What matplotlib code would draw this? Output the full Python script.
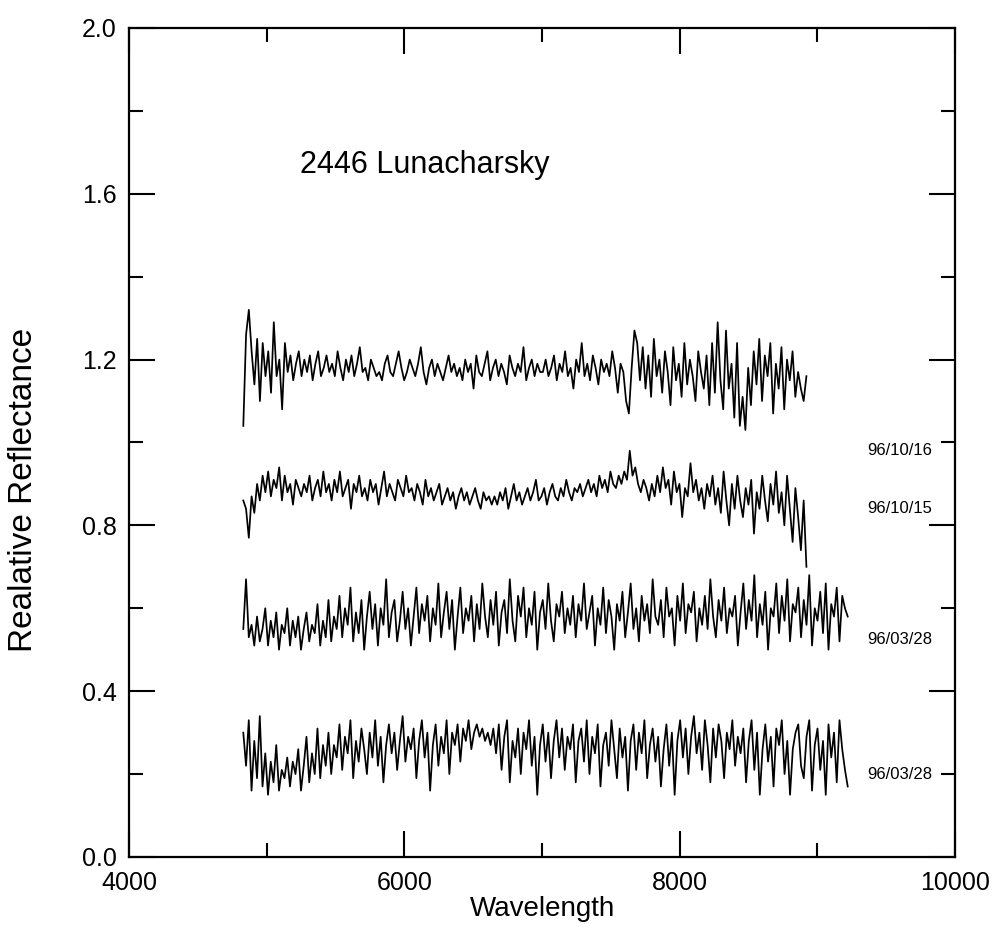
import numpy as np
import matplotlib
matplotlib.use("Agg")
import matplotlib.pyplot as plt
from matplotlib.ticker import MultipleLocator, FormatStrFormatter

plt.rcParams["font.family"] = ["Liberation Sans", "DejaVu Sans"]

# 96/10/16 spectrum, 4830-8920 A
refl_1016 = [
    1.04, 1.26, 1.32, 1.22, 1.14, 1.25, 1.10, 1.24, 1.16, 1.22, 1.12,
    1.29, 1.16, 1.20, 1.08, 1.24, 1.17, 1.21, 1.15, 1.19, 1.22,
    1.16, 1.20, 1.17, 1.21, 1.15, 1.19, 1.22, 1.16, 1.18, 1.21, 1.17, 1.19, 1.16, 1.22,
    1.18, 1.15, 1.20, 1.17, 1.21, 1.16, 1.19, 1.23, 1.17, 1.18, 1.15, 1.20, 1.18,
    1.16, 1.17, 1.15, 1.19, 1.21, 1.17, 1.16, 1.19, 1.22, 1.18, 1.15, 1.17, 1.20, 1.18, 1.16,
    1.19, 1.23, 1.17, 1.14, 1.18, 1.20, 1.16, 1.19, 1.17, 1.15, 1.18, 1.21, 1.17, 1.19, 1.16,
    1.18, 1.15, 1.20, 1.17, 1.19, 1.13, 1.21, 1.17, 1.16, 1.19, 1.22, 1.15, 1.18, 1.20, 1.16,
    1.19, 1.17, 1.14, 1.21, 1.18, 1.16, 1.19, 1.17, 1.23, 1.15, 1.18, 1.20, 1.16, 1.19, 1.17,
    1.17, 1.20, 1.16, 1.18, 1.21, 1.15, 1.19, 1.17, 1.22, 1.16, 1.18, 1.13, 1.20, 1.17, 1.24,
    1.16, 1.19, 1.15, 1.21, 1.18, 1.14, 1.20, 1.17, 1.19, 1.16, 1.22, 1.18, 1.12, 1.19, 1.17,
    1.10, 1.07, 1.18, 1.27, 1.24, 1.15, 1.23, 1.13, 1.21, 1.11, 1.25, 1.16, 1.20, 1.12, 1.22,
    1.17, 1.09, 1.23, 1.15, 1.19, 1.11, 1.24, 1.14, 1.20, 1.16, 1.10, 1.22, 1.17, 1.13, 1.21,
    1.09, 1.24, 1.12, 1.29, 1.15, 1.08, 1.27, 1.13, 1.19, 1.06, 1.24, 1.04, 1.11, 1.03, 1.18,
    1.09, 1.22, 1.14, 1.25, 1.10, 1.21, 1.16, 1.24, 1.07, 1.19, 1.13, 1.23, 1.08, 1.20, 1.15,
    1.22, 1.11, 1.17, 1.13, 1.10, 1.16,
]

# 96/10/15 spectrum, 4830-8920 A
refl_1015 = [
    0.86, 0.84, 0.77, 0.87, 0.83, 0.90, 0.86, 0.92, 0.88, 0.93, 0.87,
    0.91, 0.89, 0.94, 0.86, 0.92, 0.88, 0.90, 0.85, 0.91, 0.89,
    0.87, 0.90, 0.88, 0.92, 0.86, 0.89, 0.91, 0.87, 0.93, 0.88,
    0.90, 0.86, 0.91, 0.88, 0.93, 0.87, 0.89, 0.91, 0.84, 0.90, 0.88, 0.92, 0.87, 0.89, 0.86,
    0.91, 0.88, 0.90, 0.85, 0.89, 0.93, 0.87, 0.90, 0.88, 0.86, 0.91, 0.89, 0.87, 0.92, 0.88,
    0.89, 0.86, 0.90, 0.88, 0.85, 0.91, 0.87, 0.89, 0.86, 0.88, 0.90, 0.85, 0.87, 0.89, 0.86,
    0.88, 0.84, 0.87, 0.89, 0.86, 0.88, 0.85, 0.87, 0.89, 0.86, 0.84, 0.88, 0.86, 0.87, 0.85,
    0.87, 0.85, 0.88, 0.86, 0.89, 0.84, 0.87, 0.90, 0.86, 0.88, 0.85, 0.87, 0.89, 0.86, 0.88,
    0.91, 0.86, 0.87, 0.89, 0.85, 0.88, 0.90, 0.87, 0.86, 0.89, 0.87, 0.91, 0.88, 0.86, 0.89,
    0.88, 0.90, 0.87, 0.89, 0.91, 0.88, 0.90, 0.87, 0.92, 0.89,
    0.91, 0.88, 0.93, 0.90, 0.89, 0.92, 0.90, 0.93, 0.91, 0.98,
    0.92, 0.94, 0.90, 0.88, 0.91, 0.89, 0.86, 0.90, 0.87, 0.92, 0.88, 0.94, 0.89, 0.91, 0.85,
    0.93, 0.88, 0.90, 0.82, 0.89, 0.87, 0.95, 0.88, 0.91, 0.86, 0.89, 0.84, 0.90, 0.87, 0.92,
    0.85, 0.89, 0.83, 0.93, 0.86, 0.80, 0.90, 0.84, 0.92, 0.86, 0.82, 0.89, 0.85, 0.91, 0.78,
    0.88, 0.84, 0.92, 0.86, 0.81, 0.90, 0.85, 0.93, 0.83, 0.88, 0.80, 0.92, 0.84, 0.76, 0.89,
    0.82, 0.74, 0.86, 0.70,
]

# 96/03/28 (upper) spectrum, 4830-9220 A
refl_0328a = [
    0.55, 0.67, 0.53, 0.56, 0.51, 0.58, 0.52, 0.55, 0.60, 0.51, 0.57,
    0.53, 0.59, 0.50, 0.56, 0.54, 0.60, 0.51, 0.57, 0.53, 0.58,
    0.50, 0.55, 0.59, 0.52, 0.56, 0.54, 0.61, 0.51, 0.57, 0.53,
    0.62, 0.52, 0.58, 0.55, 0.63, 0.53, 0.60, 0.56, 0.65, 0.52, 0.59, 0.54, 0.62, 0.50, 0.58,
    0.64, 0.55, 0.61, 0.51, 0.60, 0.56, 0.67, 0.53, 0.59, 0.62, 0.52, 0.57, 0.64, 0.55, 0.60,
    0.51, 0.58, 0.65, 0.54, 0.61, 0.57, 0.63, 0.52, 0.60, 0.56, 0.66, 0.53, 0.59, 0.64, 0.55,
    0.62, 0.50, 0.58, 0.65, 0.54, 0.60, 0.57, 0.63, 0.52, 0.61, 0.55, 0.66, 0.58, 0.53, 0.62,
    0.56, 0.64, 0.51, 0.59, 0.62, 0.54, 0.67, 0.57, 0.52, 0.63, 0.58, 0.65, 0.53, 0.60, 0.56,
    0.64, 0.50, 0.59, 0.62, 0.55, 0.66, 0.57, 0.52, 0.61, 0.58, 0.64, 0.54, 0.60, 0.56, 0.63,
    0.53, 0.61, 0.57, 0.66, 0.55, 0.59, 0.63, 0.51, 0.60, 0.56, 0.65, 0.54, 0.62, 0.58, 0.50,
    0.61, 0.57, 0.64, 0.53, 0.59, 0.66, 0.55, 0.60, 0.52, 0.63, 0.57, 0.61, 0.54, 0.67, 0.58,
    0.56, 0.62, 0.53, 0.65, 0.58, 0.60, 0.51, 0.63, 0.57, 0.66, 0.54, 0.61, 0.59, 0.64, 0.52,
    0.60, 0.56, 0.63, 0.55, 0.67, 0.58, 0.53, 0.62, 0.57, 0.65, 0.54, 0.60, 0.58, 0.63, 0.51,
    0.59, 0.66, 0.55, 0.62, 0.57, 0.68, 0.53, 0.61, 0.56, 0.64, 0.50, 0.60, 0.58, 0.66, 0.54,
    0.63, 0.57, 0.67, 0.52, 0.61, 0.59, 0.65, 0.53, 0.62, 0.56, 0.68, 0.51, 0.60, 0.57, 0.64,
    0.54, 0.66, 0.50, 0.61, 0.58, 0.65, 0.52, 0.63, 0.60, 0.58,
]

# 96/03/28 (lower) spectrum, 4830-9220 A
refl_0328b = [
    0.30, 0.22, 0.33, 0.16, 0.28, 0.19, 0.34, 0.17, 0.25, 0.15, 0.23,
    0.18, 0.27, 0.16, 0.21, 0.19, 0.24, 0.17, 0.23, 0.20, 0.26,
    0.16, 0.22, 0.29, 0.18, 0.25, 0.20, 0.31, 0.19, 0.27, 0.22,
    0.30, 0.20, 0.27, 0.24, 0.32, 0.21, 0.29, 0.25, 0.33, 0.19, 0.28, 0.23, 0.31, 0.26, 0.20,
    0.30, 0.24, 0.33, 0.22, 0.29, 0.18, 0.27, 0.32, 0.25, 0.30, 0.21, 0.28, 0.34, 0.23, 0.29,
    0.26, 0.31, 0.19, 0.28, 0.33, 0.24, 0.30, 0.16, 0.27, 0.32, 0.22, 0.29, 0.25, 0.33, 0.20,
    0.30, 0.27, 0.32, 0.23, 0.31, 0.28, 0.33, 0.26, 0.30, 0.32, 0.29, 0.31, 0.28, 0.30, 0.27,
    0.31, 0.25, 0.32, 0.21, 0.29, 0.33, 0.18, 0.28, 0.24, 0.31, 0.20, 0.30, 0.26, 0.33, 0.22,
    0.29, 0.15, 0.27, 0.32, 0.23, 0.30, 0.19, 0.28, 0.33, 0.24, 0.31, 0.21, 0.29, 0.26, 0.32,
    0.18, 0.28, 0.31, 0.23, 0.33, 0.20, 0.29, 0.25, 0.32, 0.17, 0.27, 0.30, 0.22, 0.33, 0.26,
    0.19, 0.31, 0.24, 0.29, 0.16, 0.28, 0.32, 0.21, 0.30, 0.25, 0.33, 0.19, 0.27, 0.31, 0.23,
    0.29, 0.17, 0.26, 0.32, 0.22, 0.30, 0.15, 0.28, 0.33, 0.24, 0.31, 0.20, 0.29, 0.34, 0.25,
    0.30, 0.21, 0.33, 0.27, 0.18, 0.31, 0.24, 0.32, 0.28, 0.19, 0.30, 0.26, 0.33, 0.22, 0.29,
    0.25, 0.31, 0.18, 0.28, 0.33, 0.21, 0.30, 0.15, 0.26, 0.32, 0.23, 0.29, 0.17, 0.31, 0.27,
    0.33, 0.20, 0.28, 0.15, 0.26, 0.30, 0.32, 0.22, 0.19, 0.29, 0.33, 0.16, 0.27, 0.31, 0.21,
    0.28, 0.15, 0.32, 0.24, 0.30, 0.18, 0.33, 0.26, 0.21, 0.17,
]

# wavelength coverage (start, end) for each spectrum
ranges = [(4830, 8920), (4830, 8920), (4830, 9220), (4830, 9220)]
spectra = [refl_1016, refl_1015, refl_0328a, refl_0328b]
dates = ["96/10/16", "96/10/15", "96/03/28", "96/03/28"]
date_y = [0.98, 0.84, 0.525, 0.20]

fig = plt.figure(figsize=(9.97, 9.33), dpi=100)
ax = fig.add_axes([0.1294, 0.0815, 0.8286, 0.8885])

for (w0, w1), refl in zip(ranges, spectra):
    wave = np.linspace(w0, w1, len(refl))
    ax.plot(wave, refl, color="black", linewidth=1.25)

for label, y in zip(dates, date_y):
    ax.text(9360, y, label, fontsize=12, va="center", ha="left")

ax.text(5245, 1.67, "2446 Lunacharsky", fontsize=22, va="center", ha="left")

ax.set_xlim(4000, 10000)
ax.set_ylim(0.0, 2.0)
ax.xaxis.set_major_locator(MultipleLocator(2000))
ax.xaxis.set_minor_locator(MultipleLocator(1000))
ax.yaxis.set_major_locator(MultipleLocator(0.4))
ax.yaxis.set_minor_locator(MultipleLocator(0.2))
ax.yaxis.set_major_formatter(FormatStrFormatter("%.1f"))

ax.tick_params(which="both", direction="in", top=True, right=True, width=1.5)
ax.tick_params(which="major", length=19, labelsize=18)
ax.tick_params(which="minor", length=10)
ax.tick_params(axis="x", which="major", pad=10)
ax.tick_params(axis="y", which="major", pad=9)
for sp in ax.spines.values():
    sp.set_linewidth(1.6)

ax.set_xlabel("Wavelength", fontsize=20, labelpad=1)
# y label sits lower than the axes centre in the original
fig.text(24 / 997, 1 - 490 / 933, "Realative Reflectance", fontsize=24,
         rotation=90, ha="center", va="center")

fig.savefig("out.png", dpi=100)
